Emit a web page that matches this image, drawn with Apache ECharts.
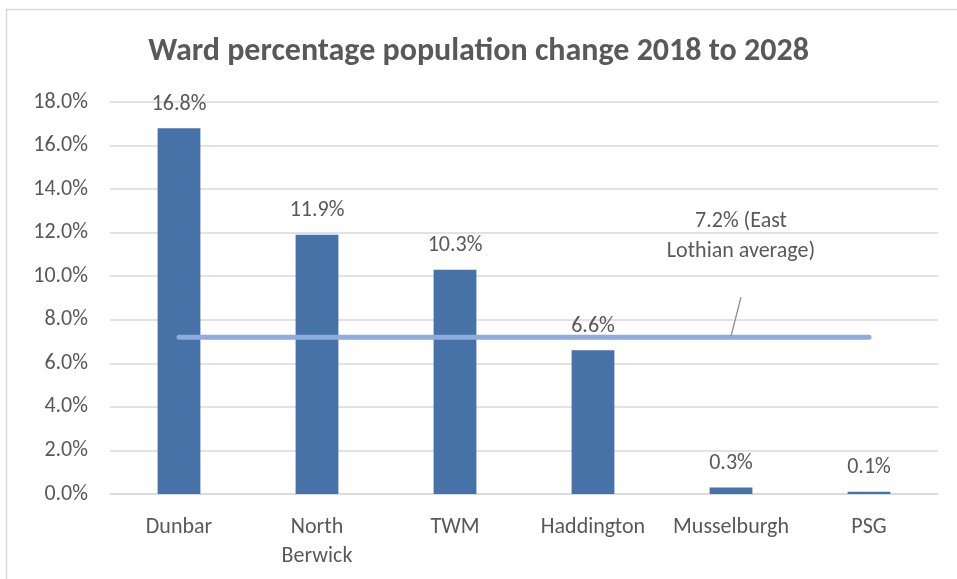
<!DOCTYPE html>
<html>
<head>
<meta charset="utf-8">
<script src="https://cdn.jsdelivr.net/npm/echarts@6/dist/echarts.min.js"></script>
<style>
html,body{margin:0;padding:0;background:#fff;}
#c{width:957px;height:579px;}
</style>
</head>
<body>
<div id="c"></div>
<script>
const categories = ['Dunbar', 'North\nBerwick', 'TWM', 'Haddington', 'Musselburgh', 'PSG'];
const wardChange = [16.8, 11.9, 10.3, 6.6, 0.3, 0.1];
const averageValue = 7.2;
const averageLabelIndex = 4;
const yTicks = [0, 2, 4, 6, 8, 10, 12, 14, 16, 18];

const FONT = "Carlito, Calibri, 'Liberation Sans Narrow', 'Open Sans', sans-serif";
const TXT = '#595959';
const FS = 22;

const avgData = categories.map((c, i) => {
  if (i === averageLabelIndex) {
    return {
      value: averageValue,
      label: {
        show: true,
        position: 'top',
        offset: [10, -65],
        formatter: averageValue.toFixed(1) + '% (East\nLothian average)',
        fontFamily: FONT, fontSize: FS, color: TXT, lineHeight: 30
      }
    };
  }
  return averageValue;
});

const chart = echarts.init(document.getElementById('c'));
chart.setOption({
  animation: false,
  title: {
    text: 'Ward percentage population change 2018 to 2028',
    left: 'center', top: 31,
    textStyle: { fontFamily: FONT, fontSize: 32, fontWeight: 'bold', color: TXT }
  },
  graphic: [{
    type: 'rect', shape: { x: 6.5, y: 9.5, width: 1000, height: 1000 },
    style: { fill: 'none', stroke: '#d9d9d9', lineWidth: 1.5 }, silent: true
  }],
  grid: { left: 110, right: 19, top: 102, bottom: 85 },
  xAxis: {
    type: 'category', data: categories,
    axisLine: { lineStyle: { color: '#d9d9d9', width: 1.5 } },
    axisTick: { show: false },
    axisLabel: { interval: 0, fontFamily: FONT, fontSize: FS, color: TXT, margin: 19, lineHeight: 29 }
  },
  yAxis: {
    type: 'value', min: yTicks[0], max: yTicks[yTicks.length - 1], interval: 2,
    axisLine: { show: false }, axisTick: { show: false },
    splitLine: { lineStyle: { color: '#d9d9d9', width: 1.5 } },
    axisLabel: { fontFamily: FONT, fontSize: FS, color: TXT, margin: 22,
      formatter: v => v.toFixed(1) + '%' }
  },
  series: [{
    type: 'bar', data: wardChange, barWidth: '31%',
    itemStyle: { color: '#4672A8' },
    label: { show: true, position: 'top', distance: 13,
      fontFamily: FONT, fontSize: FS, color: TXT,
      formatter: p => p.value.toFixed(1) + '%' }
  }, {
    type: 'line', data: avgData, symbol: 'circle', symbolSize: 1, showSymbol: true,
    itemStyle: { color: '#8FAADC' },
    lineStyle: { color: '#8FAADC', width: 5, cap: 'round' },
    z: 3
  }]
});

// leader line from the average line to its label, positioned via the axis scales
const p0 = chart.convertToPixel({ seriesIndex: 1 }, [averageLabelIndex, averageValue]);
chart.setOption({
  graphic: [{
    type: 'rect', shape: { x: 6.5, y: 9.5, width: 1000, height: 1000 },
    style: { fill: 'none', stroke: '#d9d9d9', lineWidth: 1.5 }, silent: true
  }, {
    type: 'line', silent: true, z: 10,
    shape: { x1: p0[0], y1: p0[1] - 1, x2: p0[0] + 10, y2: p0[1] - 40 },
    style: { stroke: '#8c8c8c', lineWidth: 1.3 }
  }]
});
</script>
</body>
</html>
